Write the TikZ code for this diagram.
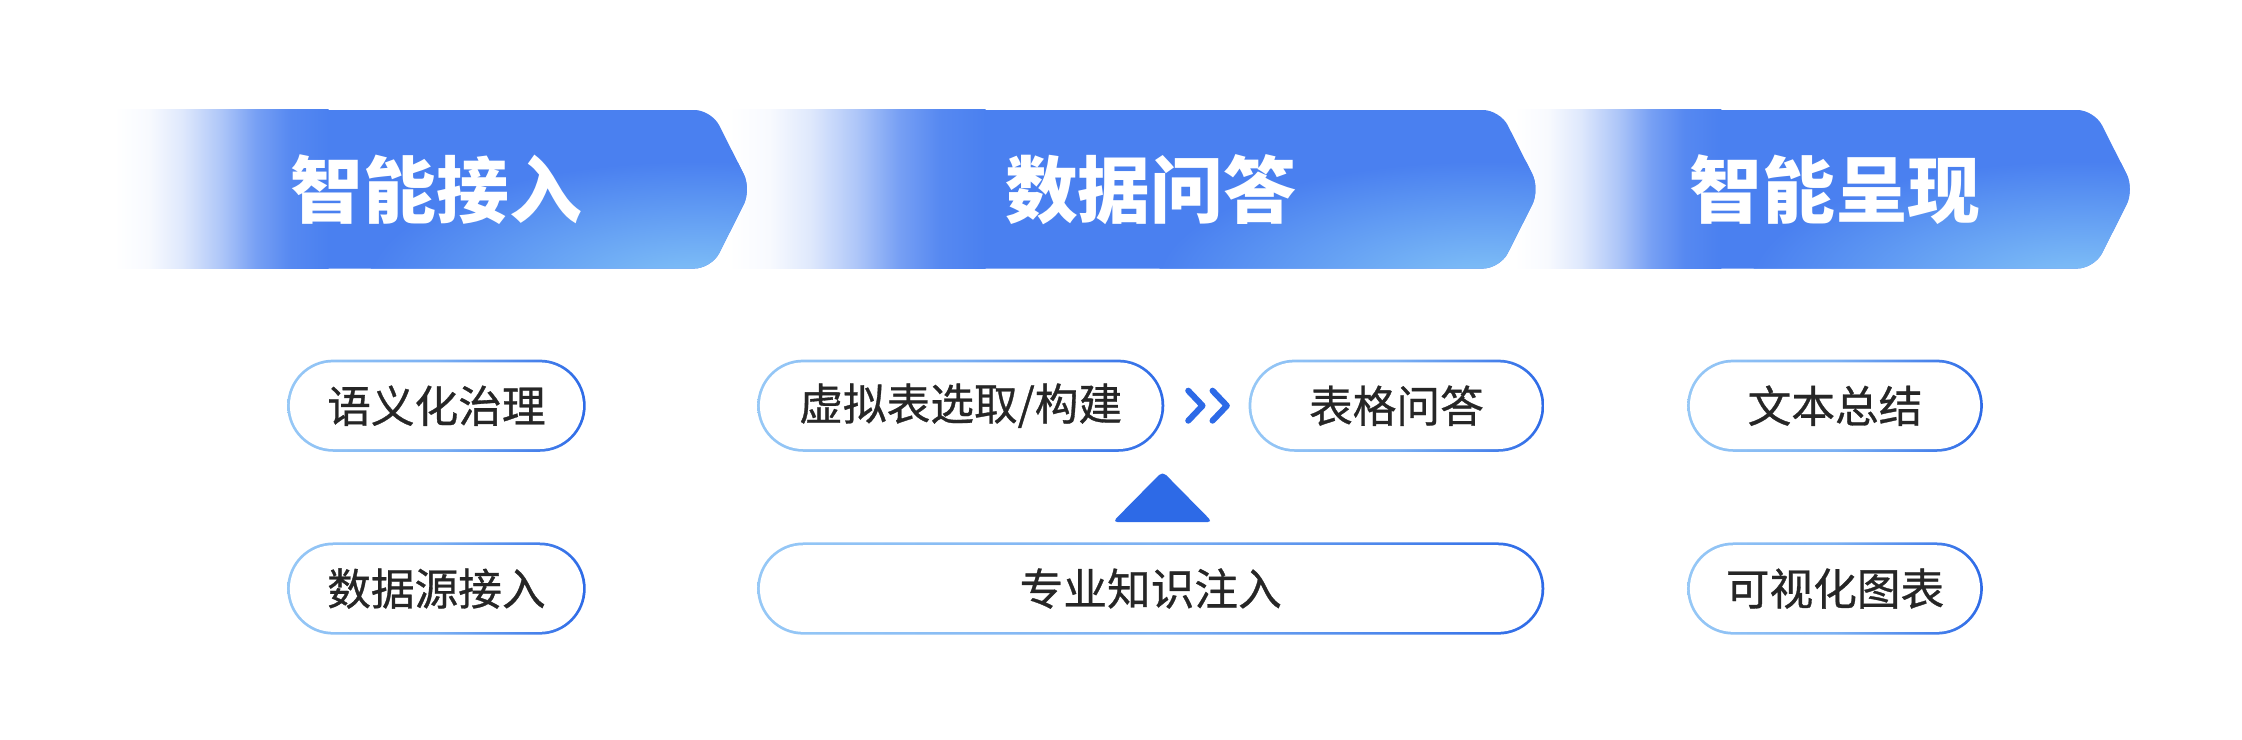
\documentclass[tikz,border=0pt]{standalone}
\usepackage{fontspec}
\newfontfamily\cjk{Noto Sans CJK SC}
\newfontfamily\cjkmid{Noto Sans CJK SC}[FakeBold=0.7]
\usepackage{tikz}
\usetikzlibrary{positioning}
\usetikzlibrary{shapes.misc}
\usetikzlibrary{calc}
\definecolor{bannerblue}{HTML}{4A80F0}
\definecolor{bannerlight}{HTML}{82C3F7}
\definecolor{pilllight}{HTML}{96C8F6}
\definecolor{pillblue}{HTML}{2D6AE7}
\definecolor{pilltext}{HTML}{262626}
\colorlet{fadeA}{white!96!bannerblue}
\colorlet{fadeB}{white!82!bannerblue}
\colorlet{fadeC}{white!55!bannerblue}
\colorlet{fadeD}{white!25!bannerblue}
\colorlet{fadeE}{white!7!bannerblue}
\pgfdeclarehorizontalshading{bannerfade}{100bp}{color(0bp)=(white); color(25bp)=(white); color(33bp)=(fadeA); color(41bp)=(fadeB); color(50bp)=(fadeC); color(58bp)=(fadeD); color(66bp)=(fadeE); color(75bp)=(bannerblue); color(100bp)=(bannerblue)}
\tikzstyle{bannertail}=[shading=bannerfade]
\tikzstyle{bannerglow}=[inner color=bannerlight,outer color=bannerblue]
\tikzstyle{bannertext}=[text=white,font=\cjk\bfseries\fontsize{14.5}{16}\selectfont,inner sep=0pt]
\tikzstyle{pillrim}=[rounded rectangle,minimum height=0.645cm,inner sep=0pt,left color=pilllight,right color=pillblue,middle color=pilllight!75!pillblue]
\tikzstyle{pill}=[rounded rectangle,fill=white,minimum height=0.645cm-1.1pt,inner sep=0pt,text=pilltext,font=\cjkmid\fontsize{8.7}{10}\selectfont]
\tikzstyle{chevron}=[draw=pillblue,line width=1.2pt,line cap=round,line join=round]
\tikzstyle{marker}=[fill=pillblue,rounded corners=1pt]

\begin{document}
\begin{tikzpicture}

    \fill[white] (0,0) rectangle (15.694,-5.18);
    \useasboundingbox (0,0) rectangle (15.694,-5.18);

    % Draw the three banners, last one first so that each tip lies on the next
    \foreach \xw/\xm/\xf in {10.60/12.05/14.66, 5.10/6.90/10.50, 0.80/2.30/4.98}
    {
        \begin{scope}
            \clip[rounded corners=0.12cm] (\xm-0.3,-0.77) -- (\xf,-0.77) -- (\xf+0.28,-1.325) -- (\xf,-1.88) -- (\xm-0.3,-1.88) -- cycle;
            \fill[bannerblue] (\xm-0.3,-0.77) rectangle (\xf+0.3,-1.88);
            \shade[bannerglow] (\xf-0.1,-1.98) ellipse (2.3 and 0.85);
        \end{scope}
        \shade[bannertail] (\xw,-0.77) rectangle (\xm,-1.88);
    }

    \foreach \pos/\name/\label in {{(3.055,-1.325)/acc/智能接入}, {(8.055,-1.325)/qa/数据问答}, {(12.845,-1.325)/show/智能呈现}}
        \node[bannertext] (\name) at \pos {\label};

    % Then the steps below each banner
    \foreach \pos/\name/\pillw/\label in {{(3.055,-2.84)/sem/2.09/语义化治理}, {(3.055,-4.12)/src/2.09/数据源接入}, {(6.725,-2.84)/vt/2.85/{虚拟表选取/构建}}, {(9.775,-2.84)/tqa/2.07/表格问答}, {(8.055,-4.12)/know/5.51/专业知识注入}, {(12.845,-2.84)/summ/2.07/文本总结}, {(12.845,-4.12)/vis/2.07/可视化图表}}
    {
        \node[pillrim,minimum width=\pillw cm] (\name-rim) at \pos {};
        \node[pill,minimum width={\pillw cm-1.1pt}] (\name) at \pos {\label};
    }

    % Chevrons from vt to tqa
    \foreach \dx in {0.18,0.35}
        \draw[chevron] ($(vt.east)+(\dx,0.105)$) -- ++(0.1,-0.105) -- ++(-0.1,-0.105);

    % Marker from know up to vt
    \coordinate (apex) at ($(vt.east)+(0,-0.46)$);
    \fill[marker] (apex) -- ++(0.35,-0.355) -- ++(-0.70,0) -- cycle;

\end{tikzpicture}
\end{document}
